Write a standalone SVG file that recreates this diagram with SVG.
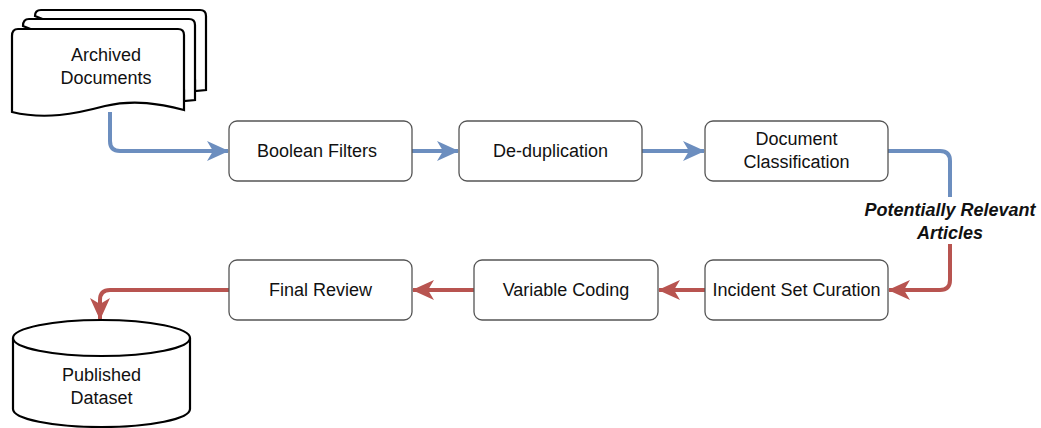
<svg xmlns="http://www.w3.org/2000/svg" width="1041" height="428" viewBox="0 0 1041 428">
<style>
.box{fill:#fff;stroke:#555;stroke-width:1.3}
.shape{fill:#fff;stroke:#000;stroke-width:2.2}
.t{font-family:"Liberation Sans",Arial,sans-serif;font-size:18px;fill:#111;text-anchor:middle}
.lbl{font-family:"Liberation Sans",Arial,sans-serif;font-size:18px;font-weight:bold;font-style:italic;fill:#111;text-anchor:middle}
.blue{fill:none;stroke:#6c8ebf;stroke-width:4}
.red{fill:none;stroke:#b85450;stroke-width:4}
</style>
<defs>
<marker id="ab" viewBox="0 0 22 20" refX="21" refY="10" markerWidth="22" markerHeight="20" markerUnits="userSpaceOnUse" orient="auto">
<path d="M0,0 L22,10 L0,20 L6,10 Z" fill="#6c8ebf"/>
</marker>
<marker id="ar" viewBox="0 0 22 20" refX="21" refY="10" markerWidth="22" markerHeight="20" markerUnits="userSpaceOnUse" orient="auto">
<path d="M0,0 L22,10 L0,20 L6,10 Z" fill="#b85450"/>
</marker>
</defs>
<g id="connectors">
<path class="blue" d="M110,112 L110,141 Q110,151 120,151 L228,151" marker-end="url(#ab)"/>
<path class="blue" d="M412,151 L458,151" marker-end="url(#ab)"/>
<path class="blue" d="M642,151 L704,151" marker-end="url(#ab)"/>
<path class="blue" d="M888,151 L940,151 Q950,151 950,161 L950,197"/>
<path class="red" d="M950,244 L950,280 Q950,290 940,290 L889,290" marker-end="url(#ar)"/>
<path class="red" d="M705,290 L659,290" marker-end="url(#ar)"/>
<path class="red" d="M474,290 L413,290" marker-end="url(#ar)"/>
<path class="red" d="M229,290 L110,290 Q100,290 100,300 L100,319" marker-end="url(#ar)"/>
<text class="lbl" x="950" y="216">Potentially Relevant</text>
<text class="lbl" x="950" y="239">Articles</text>
</g>
<g id="archived">
<path class="shape" d="M35,16 Q35,10 41,10 L200,10 Q206,10 206,16 L206,90 L195,91 L195,80 Z"/>
<path class="shape" d="M23,26 Q23,19 29,19 L189,19 Q195,19 195,25 L195,100 L184,101 L184,90 Z"/>
<path class="shape" d="M12,36 Q12,29 18,29 L178,29 Q184,29 184,35 L184,110 C160,104 135,99 105,106 C75,114 45,120 12,112 Z"/>
<text class="t" x="106" y="61">Archived</text>
<text class="t" x="106" y="84">Documents</text>
</g>
<g id="boolean">
<rect class="box" x="229" y="121" width="183" height="60" rx="8"/>
<text class="t" x="317" y="157">Boolean Filters</text>
</g>
<g id="dedup">
<rect class="box" x="459" y="121" width="183" height="60" rx="8"/>
<text class="t" x="550.5" y="157">De-duplication</text>
</g>
<g id="docclass">
<rect class="box" x="705" y="121" width="183" height="60" rx="8"/>
<text class="t" x="796.5" y="145">Document</text>
<text class="t" x="796.5" y="168">Classification</text>
</g>
<g id="incident">
<rect class="box" x="705" y="260" width="183" height="60" rx="8"/>
<text class="t" x="796.5" y="296">Incident Set Curation</text>
</g>
<g id="varcoding">
<rect class="box" x="474" y="260" width="184" height="60" rx="8"/>
<text class="t" x="566" y="296">Variable Coding</text>
</g>
<g id="finalreview">
<rect class="box" x="229" y="260" width="183" height="60" rx="8"/>
<text class="t" x="320.5" y="296">Final Review</text>
</g>
<g id="dataset">
<path class="shape" d="M13,338 A88.5,18 0 0 1 190,338 L190,409 A88.5,18 0 0 1 13,409 Z"/>
<path class="shape" fill="none" d="M13,338 A88.5,18 0 0 0 190,338"/>
<text class="t" x="101.5" y="381">Published</text>
<text class="t" x="101.5" y="404">Dataset</text>
</g>
</svg>
